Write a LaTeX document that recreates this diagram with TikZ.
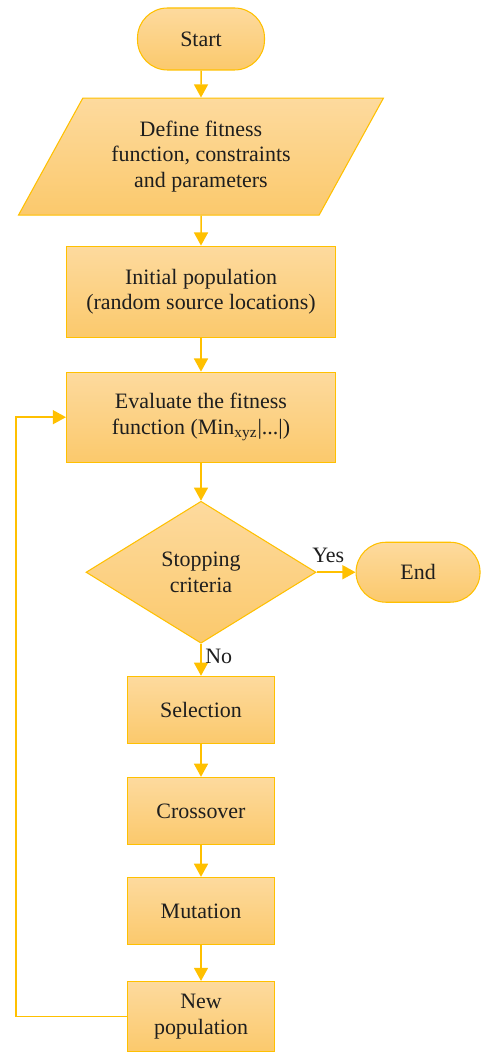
\documentclass[tikz,border=0pt]{standalone}
\usepackage{fontspec}
\setmainfont{Liberation Serif}
\usepackage{xcolor}
\usepackage{tikz}
\usetikzlibrary{arrows.meta, calc, positioning, shapes.geometric}
\definecolor{amber}{HTML}{FFC000}
\definecolor{filltop}{HTML}{FDDA9E}
\definecolor{fillbot}{HTML}{FBC96C}
\definecolor{ink}{HTML}{1E1E1E}
\tikzset{
    box/.style={rectangle, draw=amber, line width=0.6pt, align=center, text=ink,
        top color=filltop, bottom color=fillbot, font=\fontsize{12.5}{14.5}\selectfont,
        inner sep=2pt},
    termbox/.style={box, rounded corners=0.6cm},
    iobox/.style={box, trapezium, trapezium stretches=true,
        trapezium left angle=57, trapezium right angle=123},
    decbox/.style={box, diamond, aspect=1.62, inner sep=0pt},
    arrow/.style={-{Triangle[length=7.5pt, width=8pt]}, draw=amber, line width=0.85pt},
    lbl/.style={text=ink, font=\fontsize{12.5}{14.5}\selectfont, inner sep=2pt},
}

\begin{document}
\begin{tikzpicture}[node distance=0.66cm]
    \useasboundingbox (0,0) rectangle (9.72,-21.08);
    \node[termbox, minimum width=2.54cm, minimum height=1.24cm] (start) at (4.02,-0.78) {Start};
    \node[iobox, minimum width=7.30cm, minimum height=2.34cm, below=0.54cm of start] (define)
        {Define fitness\\function, constraints\\and parameters};
    \node[box, minimum width=5.38cm, minimum height=1.82cm, below=0.60cm of define] (init)
        {Initial population\\(random source locations)};
    \node[box, minimum width=5.38cm, minimum height=1.80cm, below=0.68cm of init] (eval)
        {Evaluate the fitness\\function (Min\textsubscript{xyz}|...|)};
    \node[decbox, minimum width=4.60cm, minimum height=2.84cm, below=0.76cm of eval] (stop)
        {Stopping\\criteria};
    \node[termbox, minimum width=2.48cm, minimum height=1.20cm, right=0.78cm of stop] (end) {End};
    \node[box, minimum width=2.94cm, minimum height=1.34cm, below=0.64cm of stop] (select) {Selection};
    \node[box, minimum width=2.94cm, minimum height=1.34cm, below=of select] (cross) {Crossover};
    \node[box, minimum width=2.94cm, minimum height=1.34cm, below=0.64cm of cross] (mutate) {Mutation};
    \node[box, minimum width=2.94cm, minimum height=1.40cm, below=0.72cm of mutate] (newpop)
        {New\\population};
    \coordinate (loop) at (0.32,0);
    \draw[arrow] (start) -- (define);
    \draw[arrow] (define) -- (init);
    \draw[arrow] (init) -- (eval);
    \draw[arrow] (eval) -- (stop);
    \draw[arrow] (stop) -- node[lbl, above, pos=0.3, yshift=3pt] {Yes} (end);
    \draw[arrow] (stop) -- node[lbl, right, pos=0.4] {No} (select);
    \draw[arrow] (select) -- (cross);
    \draw[arrow] (cross) -- (mutate);
    \draw[arrow] (mutate) -- (newpop);
    \draw[arrow] (newpop.west) -- (newpop.west -| loop) |- (eval.west);
\end{tikzpicture}
\end{document}
